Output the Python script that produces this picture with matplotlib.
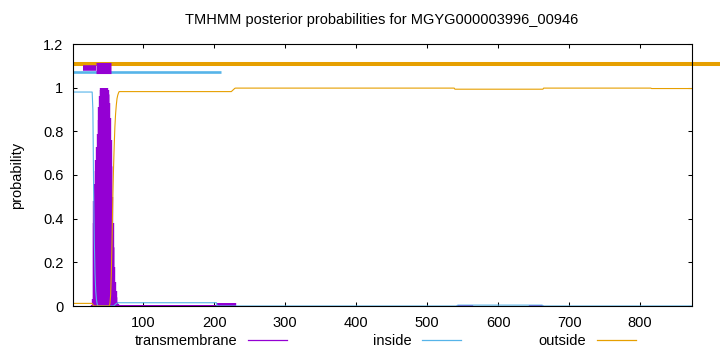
import numpy as np
import matplotlib
matplotlib.use('Agg')
import matplotlib.pyplot as plt
from matplotlib.lines import Line2D
from matplotlib.legend import Legend

plt.rcParams['font.family'] = ['Liberation Sans', 'DejaVu Sans']
plt.rcParams['font.size'] = 10.5

SEQ_LEN = 873
TITLE = 'TMHMM posterior probabilities for MGYG000003996_00946'

""" posterior probabilities, read off the picture: flat runs (first, last, value) + transition blocks (start, values) """
tm_flat = [(1, 27, 0.0), (66, 204, 0.003), (205, 229, 0.012), (230, 542, 0.0),
           (543, 563, 0.003), (564, 644, 0.0), (645, 662, 0.003), (663, 873, 0.0)]
tm_steps = [(28, [0.005, 0.03, 0.38, 0.48, 0.56, 0.62, 0.67, 0.73, 0.79, 0.85, 0.91, 0.96, 0.99,
                  1.0, 1.0, 1.0, 1.0, 1.0, 1.0, 1.0, 1.0, 1.0,
                  0.99, 0.97, 0.93, 0.86, 0.76, 0.64, 0.5, 0.38, 0.27, 0.18, 0.11, 0.07, 0.04,
                  0.02, 0.01, 0.005])]

inside_flat = [(1, 28, 0.98), (36, 58, 0.0), (64, 203, 0.015), (204, 542, 0.0),
               (543, 662, 0.004), (663, 873, 0.0)]
inside_steps = [(29, [0.9, 0.55, 0.3, 0.15, 0.07, 0.03, 0.01]),
                (59, [0.002, 0.005, 0.008, 0.011, 0.013])]

outside_flat = [(1, 28, 0.012), (31, 52, 0.0), (66, 224, 0.982), (230, 538, 0.998),
                (539, 663, 0.993), (664, 815, 0.998), (816, 873, 0.996)]
outside_steps = [(29, [0.006, 0.002]),
                 (53, [0.01, 0.05, 0.15, 0.3, 0.48, 0.62, 0.73, 0.82, 0.88, 0.92, 0.95, 0.965, 0.975]),
                 (225, [0.985, 0.988, 0.991, 0.994, 0.997])]

# predicted topology bars above the curves (first, last, level)
bar_outside = (1, 920, 1.11)
bar_inside = (1, 210, 1.07)
bar_tm_thin = (15, 33, 1.09)
bar_tm_thick = (33, 54, 1.092)

xticks = [100, 200, 300, 400, 500, 600, 700, 800]
yticks = [0, 0.2, 0.4, 0.6, 0.8, 1.0, 1.2]
ytick_labels = ['0', '0.2', '0.4', '0.6', '0.8', '1', '1.2']

C_TM = '#9400d3'
C_IN = '#56b4e9'
C_OUT = '#e69f00'


def expand(flat, steps):
    y = np.zeros(SEQ_LEN)
    for a, b, v in flat:
        y[a - 1:b] = v
    for start, vals in steps:
        y[start - 1:start - 1 + len(vals)] = vals
    return y


res = np.arange(1, SEQ_LEN + 1)
tm = expand(tm_flat, tm_steps)
inside = expand(inside_flat, inside_steps)
outside = expand(outside_flat, outside_steps)

fig = plt.figure(figsize=(7.2, 3.52), dpi=100)
ax = fig.add_axes([73 / 720, 1 - 306 / 352, (692 - 73) / 720, (306 - 44) / 352])

# impulses for the transmembrane probability (fill keeps the band solid)
ax.fill_between(res, 0, tm, step='mid', color=C_TM, lw=0)
ax.vlines(res, 0, tm, colors=C_TM, lw=1.7)
ax.plot(res, inside, color=C_IN, lw=0.8)
ax.plot(res, outside, color=C_OUT, lw=0.8)

ax.hlines(bar_outside[2], bar_outside[0], bar_outside[1], colors=C_OUT, lw=2.9, clip_on=False)
ax.hlines(bar_inside[2], bar_inside[0], bar_inside[1], colors=C_IN, lw=1.9)
ax.hlines(bar_tm_thin[2], bar_tm_thin[0], bar_tm_thin[1], colors=C_TM, lw=4.0)
ax.hlines(bar_tm_thick[2], bar_tm_thick[0], bar_tm_thick[1], colors=C_TM, lw=8.0)

ax.set_xlim(1, SEQ_LEN)
ax.set_ylim(0, 1.2)
ax.set_xticks(xticks)
ax.set_yticks(yticks)
ax.set_yticklabels(ytick_labels)
ax.tick_params(direction='in', top=True, right=True, length=3, width=0.75)
ax.tick_params(axis='y', pad=7)
ax.tick_params(axis='x', pad=7)
for s in ax.spines.values():
    s.set_linewidth(0.8)

fig.text(382 / 720, 1 - 20 / 352, TITLE, ha='center', va='center')
fig.text(17 / 720, 1 - 175 / 352, 'probability', ha='center', va='center', rotation=90)

""" gnuplot style key: text then sample line """
entries = [('transmembrane', C_TM, 287), ('inside', C_IN, 461), ('outside', C_OUT, 636)]
for name, col, xend in entries:
    h = Line2D([], [], color=col, lw=0.9)
    leg = Legend(ax, [h], [name], loc='center right',
                 bbox_to_anchor=(xend / 720, 1 - 341 / 352), bbox_transform=fig.transFigure,
                 markerfirst=False, frameon=False, borderpad=0, borderaxespad=0,
                 handlelength=2.7, handletextpad=0.7)
    ax.add_artist(leg)

fig.savefig('out.png', dpi=100)
